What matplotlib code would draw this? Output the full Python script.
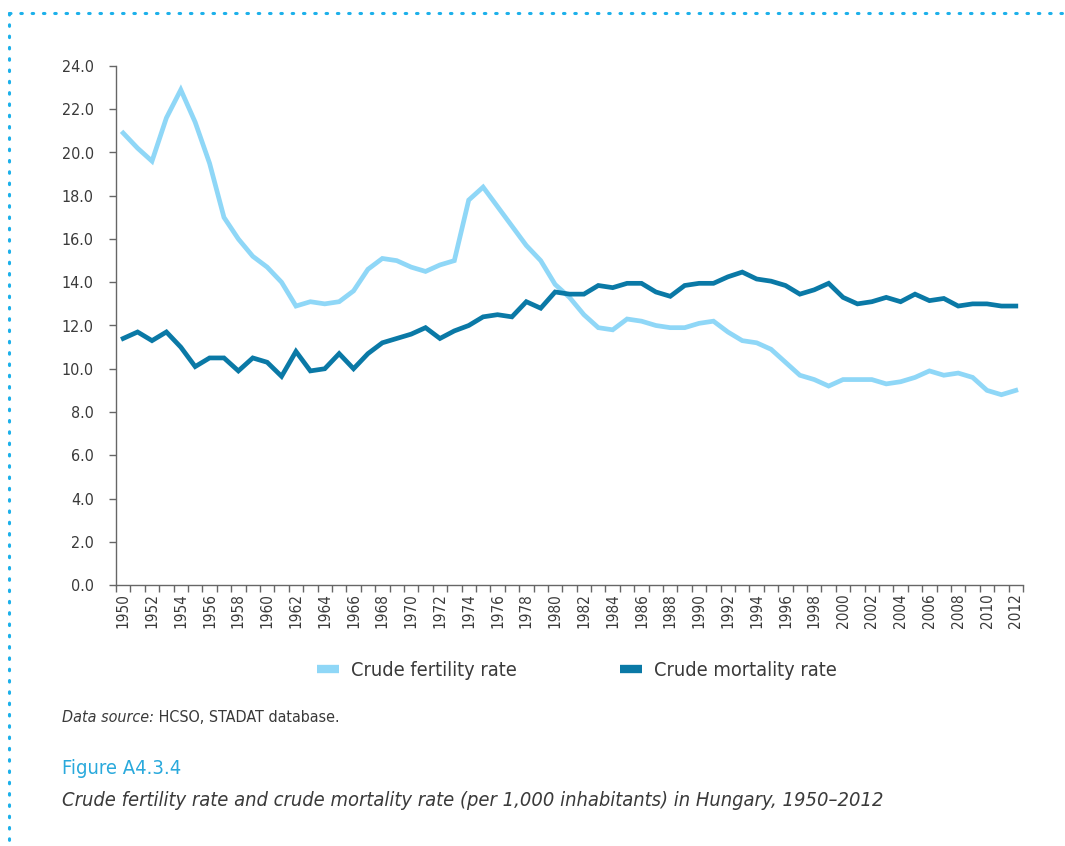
import numpy as np
import matplotlib.pyplot as plt
from matplotlib.lines import Line2D

plt.rcParams['font.family'] = ['DejaVu Sans']
plt.rcParams['font.stretch'] = 'condensed'

# данные (на 1000 жителей)
years = list(range(1950, 2013))
fertility = [20.9, 20.2, 19.6, 21.6, 22.9, 21.4, 19.5, 17.0, 16.0, 15.2,
             14.7, 14.0, 12.9, 13.1, 13.0, 13.1, 13.6, 14.6, 15.1, 15.0,
             14.7, 14.5, 14.8, 15.0, 17.8, 18.4, 17.5, 16.6, 15.7, 15.0,
             13.9, 13.3, 12.5, 11.9, 11.8, 12.3, 12.2, 12.0, 11.9, 11.9,
             12.1, 12.2, 11.7, 11.3, 11.2, 10.9, 10.3, 9.7, 9.5, 9.2,
             9.5, 9.5, 9.5, 9.3, 9.4, 9.6, 9.9, 9.7, 9.8, 9.6,
             9.0, 8.8, 9.0]
mortality = [11.4, 11.7, 11.3, 11.7, 11.0, 10.1, 10.5, 10.5, 9.9, 10.5,
             10.3, 9.65, 10.8, 9.9, 10.0, 10.7, 10.0, 10.7, 11.2, 11.4,
             11.6, 11.9, 11.4, 11.75, 12.0, 12.4, 12.5, 12.4, 13.1, 12.8,
             13.55, 13.45, 13.45, 13.85, 13.75, 13.95, 13.95, 13.55, 13.35, 13.85,
             13.95, 13.95, 14.25, 14.47, 14.15, 14.05, 13.85, 13.45, 13.65, 13.95,
             13.3, 13.0, 13.1, 13.3, 13.1, 13.45, 13.15, 13.25, 12.9, 13.0,
             13.0, 12.9, 12.9]
series_names = ['Crude fertility rate', 'Crude mortality rate']
colors = ['#8fd7f7', '#0a79a6']

fig = plt.figure(figsize=(10.65, 8.46), dpi=100)
ax = fig.add_axes([116 / 1065, 1 - 585 / 846, (1023 - 116) / 1065, (585 - 66) / 846])

x = np.arange(len(years))
ax.plot(x, fertility, color=colors[0], lw=3.4, solid_joinstyle='miter')
ax.plot(x, mortality, color=colors[1], lw=3.4, solid_joinstyle='miter')

ax.set_xlim(-0.5, len(years) - 0.5)
ax.set_ylim(0, 24)
ax.set_yticks(np.arange(0, 24.1, 2))
ax.set_yticklabels([f'{v:.1f}' for v in np.arange(0, 24.1, 2)])

# метки по центру категорий, засечки между ними
ax.set_xticks(x[::2])
ax.set_xticklabels([str(y) for y in years[::2]], rotation=90)
ax.set_xticks(np.arange(-0.5, len(years)), minor=True)
ax.tick_params(axis='x', which='major', length=0, pad=6, labelsize=11, colors='#3a3a3a')
ax.tick_params(axis='x', which='minor', length=5, width=1, color='#666')
ax.tick_params(axis='y', length=5, width=1, color='#666', labelsize=11.5,
               labelcolor='#3a3a3a', pad=11)

for s in ['top', 'right']:
    ax.spines[s].set_visible(False)
for s in ['left', 'bottom']:
    ax.spines[s].set_color('#666')
    ax.spines[s].set_linewidth(1)

handles = [Line2D([], [], color=c, lw=6, solid_capstyle='butt') for c in colors]
fig.legend(handles, series_names, loc='center', bbox_to_anchor=(0.542, 1 - 670 / 846),
           ncol=2, frameon=False, fontsize=14.3, handlelength=1.1, handletextpad=0.6,
           columnspacing=5.2, labelcolor='#3a3a3a')

# подписи
t1 = fig.text(62 / 1065, 1 - 717 / 846, 'Data source:', style='italic', fontsize=11.5,
              color='#3a3a3a', va='center')
ax.annotate(' HCSO, STADAT database.', xy=(1, 0.5), xycoords=t1, va='center',
            fontsize=11.5, color='#3a3a3a')
fig.text(62 / 1065, 1 - 768 / 846, 'Figure A4.3.4', fontsize=14.5, color='#29a9dc', va='center')
fig.text(62 / 1065, 1 - 800 / 846,
         'Crude fertility rate and crude mortality rate (per 1,000 inhabitants) in Hungary, 1950\u20132012',
         style='italic', fontsize=14.4, color='#3a3a3a', va='center')

# пунктирная рамка
border = dict(color='#1cb0ea', lw=2.2, ls=(0, (0.5, 3.2)), solid_capstyle='round',
              dash_capstyle='round', transform=fig.transFigure)
fig.add_artist(Line2D([9 / 1065, 1], [1 - 13 / 846, 1 - 13 / 846], **border))
fig.add_artist(Line2D([9 / 1065, 9 / 1065], [1 - 13 / 846, 0], **border))

fig.savefig('out.png', dpi=100)
